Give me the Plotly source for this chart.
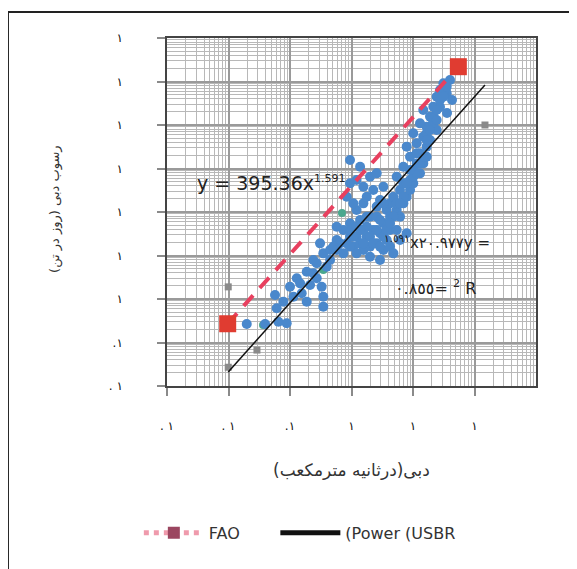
import plotly.graph_objects as go

# ---- data ----
obs_x = [0.0198, 0.0393, 0.0647, 0.0883, 0.0608, 0.0780, 0.0571, 0.100, 0.129, 0.155,
         0.187, 0.212, 0.272, 0.187, 0.348, 0.348, 0.327, 0.272, 0.348, 0.448,
         0.308, 0.240, 0.574, 0.738, 0.946, 0.574, 0.836, 1.07, 1.38, 1.21,
         1.56, 2.00, 2.57, 3.30, 1.77, 2.26, 2.91, 3.73, 0.738, 1.21,
         0.946, 1.38, 1.77, 2.00, 1.21, 1.56, 2.57, 3.30, 4.23, 2.00,
         2.91, 4.23, 6.15, 7.89, 5.43, 4.80, 3.73, 4.23, 5.43, 3.30,
         0.946, 1.38, 1.21, 0.946, 1.56, 2.00, 0.836, 1.77, 2.26, 1.07,
         2.91, 3.30, 2.57, 4.80, 6.15, 6.97, 5.43, 7.89, 8.95, 10.1,
         6.97, 11.5, 8.95, 13.0, 11.5, 7.89, 14.7, 10.1, 16.7, 13.0,
         18.9, 14.7, 21.4, 24.3, 27.5, 31.2, 40.0, 35.3, 21.4, 16.7,
         13.0, 14.7, 10.1, 6.97, 6.15, 4.23, 2.57, 16.7, 18.9, 24.3,
         30.8, 27.5, 35.7, 21.2, 43.1, 16.7,
         0.946, 1.56, 2.57, 1.21, 2.00, 3.30, 1.56, 2.26, 2.91, 3.73,
         4.80, 5.43, 6.97, 8.95, 7.89, 10.1, 11.5, 13.0, 14.7, 11.5,
         16.7, 18.9, 21.4, 24.3, 27.5, 31.2, 35.3, 24.3, 8.95, 6.15,
         4.23, 2.91, 1.77, 1.38, 1.07, 0.946, 0.650, 0.507, 0.448, 0.574,
         0.395, 0.240, 0.146, 0.114]
obs_y = [0.266, 0.266, 0.301, 0.276, 0.611, 0.869, 1.24, 1.92, 2.99, 1.35,
         0.869, 2.10, 2.99, 4.25, 1.13, 0.667, 1.92, 6.61, 11.2, 13.4,
         19.0, 7.89, 22.7, 38.5, 27.1, 46.0, 19.0, 16.0, 19.0, 27.1,
         13.4, 16.0, 19.0, 13.4, 27.1, 38.5, 32.4, 22.7, 11.2, 11.2,
         54.9, 65.5, 46.0, 78.2, 111, 158, 78.2, 54.9, 38.5, 9.40,
         7.89, 16.0, 22.7, 32.4, 38.5, 11.2, 111, 158, 111, 158,
         1570, 1100, 544, 456, 382, 649, 225, 225, 321, 158,
         189, 382, 774, 225, 321, 456, 649, 225, 544, 925,
         1100, 1310, 1870, 2230, 3790, 3180, 5400, 6440, 9160, 10900,
         15600, 22100, 26400, 44800, 63800, 90800, 108000, 53500, 10900, 3180,
         774, 1310, 456, 158, 78.2, 78.2, 133, 1870, 4520, 7670,
         54400, 25900, 18900, 11100, 37600, 6550,
         38.5, 38.5, 38.5, 46.0, 27.1, 27.1, 19.0, 19.0, 16.0, 38.5,
         78.2, 158, 225, 321, 456, 649, 774, 1310, 1870, 2230,
         4520, 7670, 15600, 22100, 37600, 44800, 76000, 13000, 925, 158,
         54.9, 65.5, 78.2, 38.5, 27.1, 16.0, 19.0, 16.0, 7.89, 13.4,
         5.53, 3.89, 2.29, 1.13]

grey_x = [0.0099, 0.029, 0.0099, 148]
grey_y = [0.027, 0.067, 1.9, 10000]

teal_x = [0.0364, 0.348, 0.70]
teal_y = [0.252, 4.64, 95]

fao_x = [0.0097, 54.6]
fao_y = [0.27, 219000]

usbr_x = [0.0099, 148]
usbr_y = [0.021, 83000]

x_tickvals = [0.001, 0.01, 0.1, 1, 10, 100]
x_ticktext = [". ١", ". ١", ".١", "١", "١", "١"]
y_tickvals = [0.01, 0.1, 1, 10, 100, 1000, 10000, 100000, 1000000]
y_ticktext = [". ١", ".١", "١", "١", "١", "١", "١", "١", "١"]

NB = "\u00a0"
# stored in the order that the browser's right-to-left layout turns into the
# word order seen in the picture
x_title = "(درثانیه مترمکعب)دبی"
y_title = "(روز در تن) رسوب دبی"
eq1 = "y = 395.36x<sup><span style='font-size:11px'>1.591</span></sup>"
eq2 = "<sup>١.٥٩١</sup>x٢٠.٩٧٧y ="
r2 = "٠.٨٥٥= <sup>2</sup> R"
fao_name = "FAO" + NB * 6
usbr_name = "(Power (USBR"

FONT = "DejaVu Sans, sans-serif"

fig = go.Figure()
fig.add_trace(go.Scatter(x=grey_x, y=grey_y, mode="markers", showlegend=False,
                         marker=dict(symbol="square", size=7, color="#8a8a8a")))
fig.add_trace(go.Scatter(x=teal_x, y=teal_y, mode="markers", showlegend=False,
                         marker=dict(size=8, color="#4aa88e")))
fig.add_trace(go.Scatter(x=obs_x, y=obs_y, mode="markers", showlegend=False,
                         marker=dict(size=10, color="#4a88cc")))
fig.add_trace(go.Scatter(x=fao_x, y=fao_y, mode="lines+markers", showlegend=False,
                         line=dict(color="#e8405f", width=4, dash="14px,10px"),
                         marker=dict(symbol="square", size=17, color="#e03c31")))
# legend-only entry for FAO (its legend look differs from the plotted squares)
fig.add_trace(go.Scatter(x=[None], y=[None], mode="lines+markers", name=fao_name,
                         line=dict(color="#ef9aac", width=1.2, dash="5px,5px"),
                         marker=dict(symbol="square", size=10, color="#9b4660")))
fig.add_trace(go.Scatter(x=usbr_x, y=usbr_y, mode="lines", name=usbr_name,
                         line=dict(color="#111111", width=1.5)))

axis_common = dict(
    type="log", showgrid=True, gridcolor="#9a9a9a", gridwidth=1.5,
    ticks="outside", ticklen=8, tickcolor="#8a8a8a", tickwidth=1.5,
    showline=True, linecolor="#444444", linewidth=1.5, mirror=True,
    minor=dict(showgrid=True, gridcolor="#b8b8b8", gridwidth=1, dtick="D1", ticks=""),
    tickfont=dict(family=FONT, size=12, color="#111111"),
    zeroline=False,
)

fig.update_layout(
    width=569, height=561,
    margin=dict(l=159, r=41, t=30, b=183),
    paper_bgcolor="white", plot_bgcolor="white",
    xaxis=dict(axis_common, range=[-3, 3], tickvals=x_tickvals, ticktext=x_ticktext,
               ticklabelstandoff=20),
    yaxis=dict(axis_common, range=[-2, 6], tickvals=y_tickvals, ticktext=y_ticktext,
               ticklabelstandoff=32),
    legend=dict(orientation="h", x=0.36, xanchor="center", y=-0.422, yanchor="middle",
                font=dict(family=FONT, size=16, color="#333333"),
                itemwidth=60, itemsizing="constant", bgcolor="rgba(0,0,0,0)"),
    font=dict(family=FONT),
    shapes=[dict(type="rect", xref="paper", yref="paper",
                 x0=-0.431, x1=1.3, y0=-0.6, y1=1.0747,
                 line=dict(color="#222222", width=2), layer="below")],
    annotations=[
        dict(text=eq1, xref="paper", yref="paper", x=0.076, y=0.583,
             xanchor="left", yanchor="middle", showarrow=False,
             font=dict(family=FONT, size=19, color="#222222")),
        dict(text=eq2, xref="paper", yref="paper", x=0.881, y=0.414,
             xanchor="right", yanchor="middle", showarrow=False,
             font=dict(family=FONT, size=15, color="#222222")),
        dict(text=r2, xref="paper", yref="paper", x=0.843, y=0.284,
             xanchor="right", yanchor="middle", showarrow=False,
             font=dict(family=FONT, size=16, color="#222222")),
        dict(text=x_title, xref="paper", yref="paper", x=0.5, y=-0.241,
             xanchor="center", yanchor="middle", showarrow=False,
             font=dict(family=FONT, size=17, color="#333333")),
        dict(text=y_title, xref="paper", yref="paper", x=-0.3035, y=0.506,
             xanchor="center", yanchor="middle", showarrow=False, textangle=-90,
             font=dict(family=FONT, size=13, color="#333333")),
    ],
)

fig.write_html("out.html")
